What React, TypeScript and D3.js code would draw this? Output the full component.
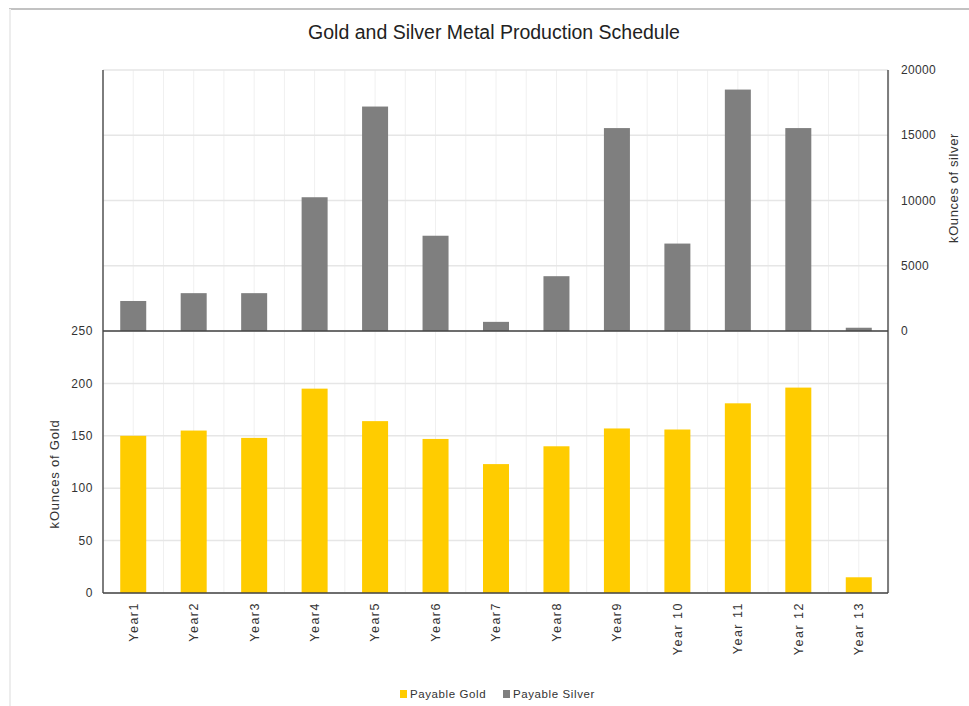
import React from "react";
import * as d3 from "d3";

const years = ["Year1","Year2","Year3","Year4","Year5","Year6","Year7","Year8","Year9","Year 10","Year 11","Year 12","Year 13"];
const payableGold = [150, 155, 148, 195, 164, 147, 123, 140, 157, 156, 181, 196, 15];
const payableSilver = [2300, 2900, 2900, 10250, 17200, 7300, 700, 4200, 15550, 6700, 18500, 15550, 250];
const goldTicks = [0, 50, 100, 150, 200, 250];
const silverTicks = [0, 5000, 10000, 15000, 20000];
const seriesNames = ["Payable Gold", "Payable Silver"];

const W = 969, H = 706;
const GOLD = "#FFCC00", SILVER = "#7F7F7F";
const FONT = "'Liberation Sans', Arial, sans-serif";

export default function App() {
  const left = 103, right = 889;
  const top = 70, mid = 331, bottom = 593;
  const x = d3.scaleBand<string>().domain(years).range([left, right]).paddingInner(0.57).paddingOuter(0.285);
  const yS = d3.scaleLinear().domain([0, 20000]).range([mid, top]);
  const yG = d3.scaleLinear().domain([0, 250]).range([bottom, mid]);
  const step = x.step();
  const vgrid = d3.range(0, years.length * 2 + 1).map(i => left + (i * step) / 2);
  const bw = x.bandwidth();

  return (
    <svg width={W} height={H} style={{ position: "absolute", left: 0, top: 0, background: "#fff" }} fontFamily={FONT}>
      <line x1={9} x2={W} y1={9} y2={9} stroke="#c2c2c2" strokeWidth={2} />
      <line x1={10} x2={10} y1={9} y2={H} stroke="#ededed" strokeWidth={2} />
      <text x={494} y={39} textAnchor="middle" fontSize={19.5} fill="#222">Gold and Silver Metal Production Schedule</text>

      {/* grid */}
      {vgrid.map((gx, i) => (
        <line key={"v" + i} x1={gx} x2={gx} y1={top} y2={bottom} stroke="#f0f0f0" strokeWidth={1} />
      ))}
      {silverTicks.map(t => (
        <line key={"s" + t} x1={left} x2={right - 1} y1={yS(t)} y2={yS(t)} stroke="#e6e6e6" strokeWidth={1.5} />
      ))}
      {goldTicks.map(t => (
        <line key={"g" + t} x1={left} x2={right - 1} y1={yG(t)} y2={yG(t)} stroke="#e6e6e6" strokeWidth={1.5} />
      ))}

      {/* bars */}
      {years.map((yr, i) => (
        <rect key={"sb" + yr} x={x(yr)} y={yS(payableSilver[i])} width={bw} height={mid - yS(payableSilver[i])} fill={SILVER} />
      ))}
      {years.map((yr, i) => (
        <rect key={"gb" + yr} x={x(yr)} y={yG(payableGold[i])} width={bw} height={bottom - yG(payableGold[i])} fill={GOLD} />
      ))}

      {/* axis lines */}
      <line x1={left} x2={left} y1={top} y2={bottom} stroke="#555" strokeWidth={1.5} />
      <line x1={right - 1} x2={right - 1} y1={top} y2={bottom} stroke="#555" strokeWidth={1.5} />
      <line x1={left} x2={right - 1} y1={mid} y2={mid} stroke="#444" strokeWidth={1.5} />
      <line x1={left} x2={right - 1} y1={bottom} y2={bottom} stroke="#444" strokeWidth={1.5} />

      {/* tick labels */}
      {goldTicks.map(t => (
        <text key={"gl" + t} x={93} y={yG(t)} dy="0.35em" textAnchor="end" fontSize={12} letterSpacing={0.6} fill="#333">{t}</text>
      ))}
      {silverTicks.map(t => (
        <text key={"sl" + t} x={901} y={yS(t)} dy="0.35em" textAnchor="start" fontSize={12} letterSpacing={0.3} fill="#333">{t}</text>
      ))}
      {years.map(yr => (
        <text key={"xl" + yr} transform={`translate(${(x(yr) as number) + bw / 2},${bottom + 9}) rotate(-90)`} dy="0.35em" textAnchor="end" fontSize={12.5} letterSpacing={1.5} fill="#333">{yr}</text>
      ))}

      {/* axis titles */}
      <text transform={`translate(54,474) rotate(-90)`} dy="0.35em" textAnchor="middle" fontSize={13} letterSpacing={0.8} fill="#333">kOunces of  Gold</text>
      <text transform={`translate(953,188) rotate(-90)`} dy="0.35em" textAnchor="middle" fontSize={13} letterSpacing={0.6} fill="#333">kOunces of silver</text>

      {/* legend */}
      <rect x={400} y={690} width={7} height={8} fill={GOLD} />
      <text x={410} y={694} dy="0.35em" fontSize={11.5} letterSpacing={0.6} fill="#333">{seriesNames[0]}</text>
      <rect x={503} y={690} width={7} height={8} fill={SILVER} />
      <text x={513} y={694} dy="0.35em" fontSize={11.5} letterSpacing={0.6} fill="#333">{seriesNames[1]}</text>
    </svg>
  );
}
